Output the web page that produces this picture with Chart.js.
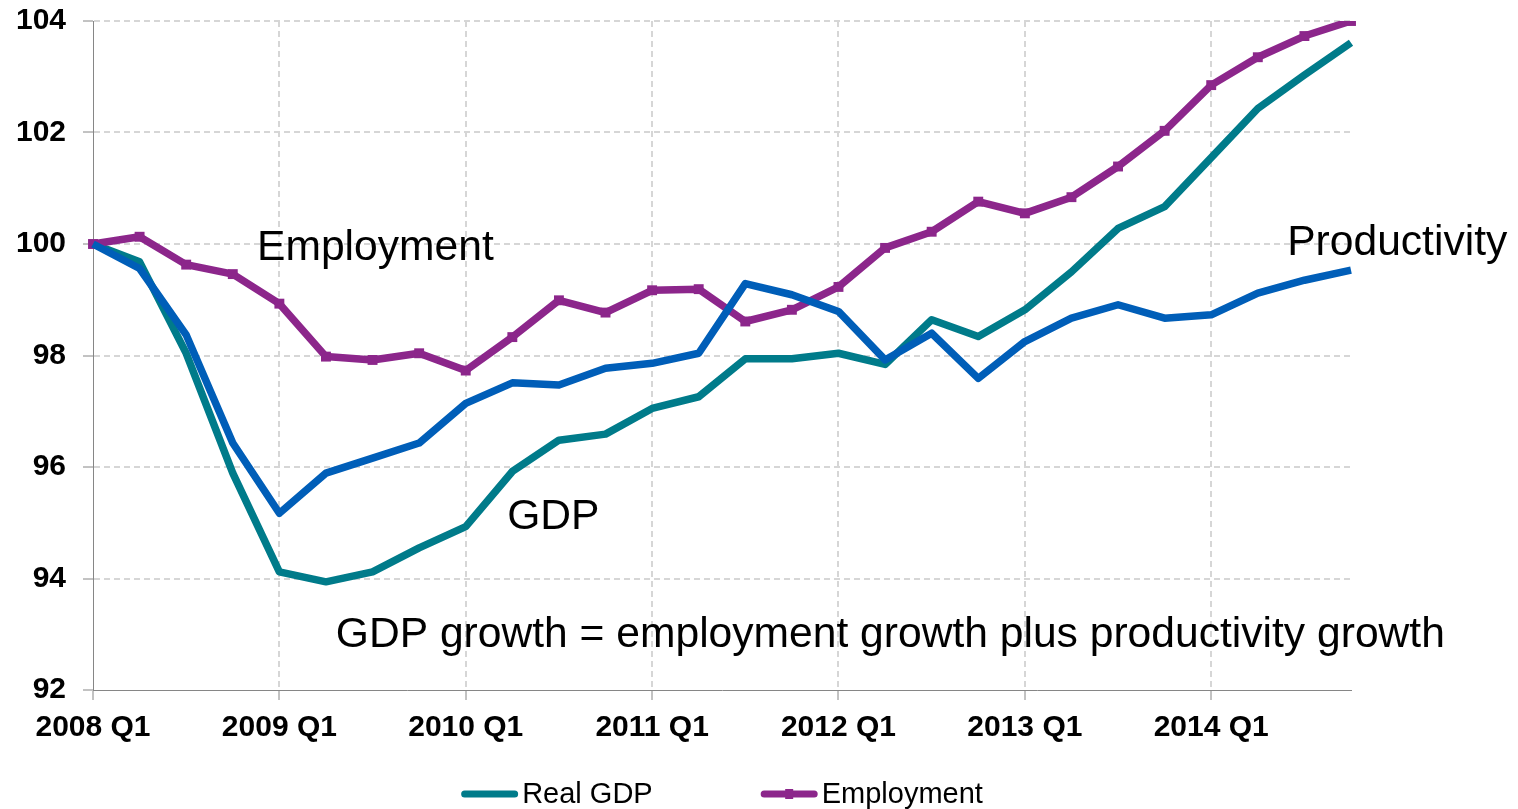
<!DOCTYPE html>
<html>
<head>
<meta charset="utf-8">
<title>GDP, employment and productivity</title>
<script src="https://cdn.jsdelivr.net/npm/chart.js@4.4.1/dist/chart.umd.min.js"></script>
<style>
  html, body { margin: 0; padding: 0; background: #ffffff; }
</style>
</head>
<body>
<canvas id="myChart" width="1518" height="809"></canvas>
<script>
// index, 2008 Q1 = 100

const quarters = [
  '2008 Q1', '2008 Q2', '2008 Q3', '2008 Q4',
  '2009 Q1', '2009 Q2', '2009 Q3', '2009 Q4',
  '2010 Q1', '2010 Q2', '2010 Q3', '2010 Q4',
  '2011 Q1', '2011 Q2', '2011 Q3', '2011 Q4',
  '2012 Q1', '2012 Q2', '2012 Q3', '2012 Q4',
  '2013 Q1', '2013 Q2', '2013 Q3', '2013 Q4',
  '2014 Q1', '2014 Q2', '2014 Q3', '2014 Q4',
];

const realGdp = [
  100.0, 99.68, 98.04, 95.89, 94.12, 93.94, 94.12, 94.55,
  94.93, 95.92, 96.48, 96.59, 97.05, 97.26, 97.94, 97.94,
  98.04, 97.84, 98.64, 98.34, 98.82, 99.50, 100.28, 100.67,
  101.55, 102.43, 103.03, 103.61,
];

const employment = [
  100.0, 100.13, 99.63, 99.46, 98.93, 97.98, 97.92, 98.04,
  97.73, 98.33, 98.99, 98.77, 99.17, 99.19, 98.61, 98.82,
  99.23, 99.93, 100.22, 100.76, 100.55, 100.84, 101.39, 102.03,
  102.85, 103.35, 103.73, 104.0,
];

const productivity = [
  100.0, 99.56, 98.37, 96.43, 95.17, 95.89, 96.16, 96.43,
  97.14, 97.51, 97.47, 97.77, 97.86, 98.04, 99.29, 99.09,
  98.79, 97.92, 98.40, 97.59, 98.25, 98.67, 98.91, 98.67,
  98.73, 99.12, 99.35, 99.53,
];

const yTicks = [92, 94, 96, 98, 100, 102, 104];

// only these two series get a key entry
const legendNames = ['Real GDP', 'Employment'];

// text labels placed in data space (quarter index, index value at baseline)
const notes = [
  { text: 'Employment', at: 3.52, value: 99.71 },
  { text: 'Productivity', at: 25.63, value: 99.80 },
  { text: 'GDP', at: 8.89, value: 94.88 },
  { text: 'GDP growth = employment growth plus productivity growth', at: 5.21, value: 92.77 },
];

const FONT = "'Liberation Sans', Arial, sans-serif";
const TEAL = '#007b8a';
const PURPLE = '#8c268b';
const BLUE = '#005eb8';
const GRID = '#d6d6d6';
const AXIS = '#868686';

const textNotes = {
  id: 'textNotes',
  afterDatasetsDraw(chart) {
    const { ctx, scales: { x, y } } = chart;
    ctx.save();
    ctx.font = '42.6px ' + FONT;
    ctx.fillStyle = '#000';
    ctx.textAlign = 'left';
    ctx.textBaseline = 'alphabetic';
    notes.forEach(n => {
      ctx.fillText(n.text, x.getPixelForValue(n.at), y.getPixelForValue(n.value));
    });
    ctx.restore();
  }
};

// key drawn under the axis: a thick line sample followed by the series name
const bottomLegend = {
  id: 'bottomLegend',
  afterDraw(chart) {
    const { ctx, chartArea } = chart;
    const items = legendNames.map(name => chart.data.datasets.find(d => d.label === name));
    const sample = 57, gap = 4, spacing = 108;
    ctx.save();
    ctx.font = '29px ' + FONT;
    const widths = items.map(d => sample + gap + ctx.measureText(d.label).width);
    const total = widths.reduce((a, b) => a + b, 0) + spacing * (items.length - 1);
    let left = (chartArea.left + chartArea.right) / 2 - total / 2;
    const cy = chart.height - 15;
    items.forEach((d, i) => {
      ctx.strokeStyle = d.borderColor;
      ctx.lineWidth = 7;
      ctx.lineCap = 'round';
      ctx.beginPath();
      ctx.moveTo(left + 3.5, cy);
      ctx.lineTo(left + sample - 3.5, cy);
      ctx.stroke();
      if (d.pointRadius) {
        ctx.fillStyle = d.borderColor;
        ctx.fillRect(left + sample / 2 - 4, cy - 5, 8, 10);
      }
      ctx.fillStyle = '#000';
      ctx.textBaseline = 'middle';
      ctx.fillText(d.label, left + sample + gap, cy + 1);
      left += widths[i] + spacing;
    });
    ctx.restore();
  }
};

const data = {
  labels: quarters,
  datasets: [
    {
      label: 'Productivity',
      data: productivity,
      borderColor: BLUE,
      backgroundColor: BLUE,
      borderWidth: 7.5,
      borderJoinStyle: 'round',
      pointRadius: 0,
      order: 1,
    },
    {
      label: 'Employment',
      data: employment,
      borderColor: PURPLE,
      backgroundColor: PURPLE,
      borderWidth: 7.5,
      borderJoinStyle: 'round',
      pointStyle: 'rect',
      pointRadius: 7,
      pointBorderWidth: 0,
      pointBackgroundColor: PURPLE,
      order: 2,
    },
    {
      label: 'Real GDP',
      data: realGdp,
      borderColor: TEAL,
      backgroundColor: TEAL,
      borderWidth: 7.5,
      borderJoinStyle: 'round',
      pointRadius: 0,
      order: 3,
    },
  ]
};

const config = {
  type: 'line',
  data: data,
  plugins: [textNotes, bottomLegend],
  options: {
    responsive: false,
    animation: false,
    events: [],
    layout: {
      padding: { top: 21, right: 167, bottom: 39, left: 0 }
    },
    plugins: {
      legend: { display: false },
      tooltip: { enabled: false },
      title: { display: false },
    },
    scales: {
      x: {
        ticks: {
          autoSkip: false,
          maxRotation: 0,
          minRotation: 0,
          padding: 10,
          color: '#000',
          font: { family: FONT, size: 30, weight: 'bold' },
          // one label per year; the other quarters keep no tick
          callback: (value, index) => index % 4 === 0 ? quarters[index] : null,
        },
        grid: {
          color: c => c.index > 0 ? GRID : 'transparent',
          lineWidth: 2,
          tickColor: AXIS,
          tickWidth: 1,
          tickLength: 10,
        },
        border: { color: AXIS, width: 1, dash: [6, 4] },
        afterFit: axis => { axis.height = 80; },
      },
      y: {
        min: 92,
        max: 104,
        afterBuildTicks: axis => { axis.ticks = yTicks.map(v => ({ value: v })); },
        ticks: {
          padding: 17,
          color: '#000',
          font: { family: FONT, size: 30, weight: 'bold' },
        },
        grid: {
          color: c => c.index === 0 ? 'transparent' : GRID,
          lineWidth: 2,
          tickColor: AXIS,
          tickWidth: 1,
          tickLength: 10,
        },
        border: { color: AXIS, width: 1, dash: [6, 4] },
        afterFit: axis => {
          axis.width = 93;
          // top label may sit on the canvas edge, the layout padding decides
          axis.paddingTop = 0;
          axis.paddingBottom = 0;
        },
      },
    }
  },
};

var myChart = new Chart(
  document.getElementById('myChart'),
  config
);
</script>
</body>
</html>
